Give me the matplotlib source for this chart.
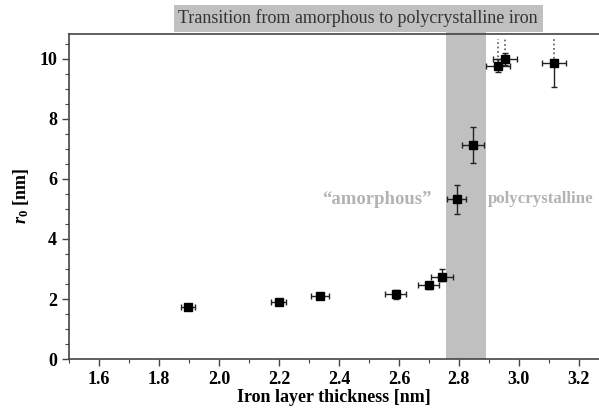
import numpy as np
import matplotlib; matplotlib.use("Agg")
import matplotlib.pyplot as plt
from matplotlib.patches import Rectangle
from matplotlib.transforms import blended_transform_factory

plt.rcParams["font.family"] = ["Liberation Serif", "DejaVu Serif"]
plt.rcParams["mathtext.fontset"] = "custom"
plt.rcParams["mathtext.it"] = "Liberation Serif:italic:bold"
plt.rcParams["mathtext.rm"] = "Liberation Serif:bold"

# iron layer thickness [nm], r0 [nm], errors
thick = [1.896, 2.200, 2.337, 2.589, 2.699, 2.744, 2.792, 2.848, 2.931, 2.953, 3.117]
r0 = [1.74, 1.90, 2.11, 2.16, 2.46, 2.74, 5.32, 7.13, 9.78, 10.01, 9.88]
xerr = [0.023, 0.025, 0.030, 0.035, 0.035, 0.036, 0.033, 0.037, 0.040, 0.040, 0.040]
yerr_lo = [0.10, 0.08, 0.08, 0.15, 0.12, 0.15, 0.48, 0.60, 0.23, 0.20, 0.80]
yerr_hi = [0.10, 0.08, 0.08, 0.15, 0.12, 0.25, 0.48, 0.60, 0.23, 0.20, 0.00]
open_top = [False] * 8 + [True, True, True]
dotted_to = 10.67

band = (2.757, 2.89)

fig = plt.figure(figsize=(5.99, 4.09), dpi=100)
ax = fig.add_axes([0.1152, 0.1222, 0.8848, 0.7946])

trans = blended_transform_factory(ax.transData, ax.transAxes)
ax.add_patch(Rectangle((band[0], 0), band[1] - band[0], 1.06, transform=trans,
                       facecolor="#c0c0c0", edgecolor="none", clip_on=False, zorder=0))

for x, y, top in zip(thick, r0, open_top):
    if top:
        ax.plot([x, x], [y, dotted_to], ":", color="#555555", lw=1.2, zorder=2)

ax.errorbar(thick, r0, xerr=xerr, yerr=[yerr_lo, yerr_hi], fmt="s", color="black",
            ms=5.5, ecolor="#222222", elinewidth=1.0, capsize=2.5, capthick=1.0, zorder=3)

ax.text(2.71, 5.33, "\u201camorphous\u201d", ha="right", va="center", color="#b3b3b3",
        fontsize=13.5, fontweight="bold")
ax.text(2.898, 5.33, "polycrystalline", ha="left", va="center", color="#b3b3b3",
        fontsize=12.2, fontweight="bold", clip_on=False)

fig.text(0.598, 0.955, "Transition from amorphous to polycrystalline iron", ha="center",
         va="center", fontsize=13, color="#333333",
         bbox=dict(facecolor="#c0c0c0", edgecolor="none", pad=3.5))

ax.set_xlim(1.5, 3.267)
ax.set_ylim(0, 10.83)
ax.set_xticks([1.6, 1.8, 2.0, 2.2, 2.4, 2.6, 2.8, 3.0, 3.2])
ax.set_xticks(np.arange(1.5, 3.27, 0.1), minor=True)
ax.set_yticks([0, 2, 4, 6, 8, 10])
ax.set_yticks(np.arange(0, 10.8, 0.5), minor=True)
ax.tick_params(which="major", length=5, width=1, labelsize=13, color="#444444")
ax.tick_params(which="minor", length=3, width=0.8, color="#444444")
for lab in ax.get_xticklabels() + ax.get_yticklabels():
    lab.set_fontweight("bold")
for s in ("left", "bottom", "top"):
    ax.spines[s].set_color("#444444")
    ax.spines[s].set_linewidth(1.2)
ax.spines["right"].set_visible(False)

ax.set_xlabel("Iron layer thickness [nm]", fontsize=13, fontweight="bold", labelpad=1)
ax.set_ylabel("$r_0$ [nm]", fontsize=13, fontweight="bold", labelpad=6)

fig.savefig("out.png", dpi=100)
